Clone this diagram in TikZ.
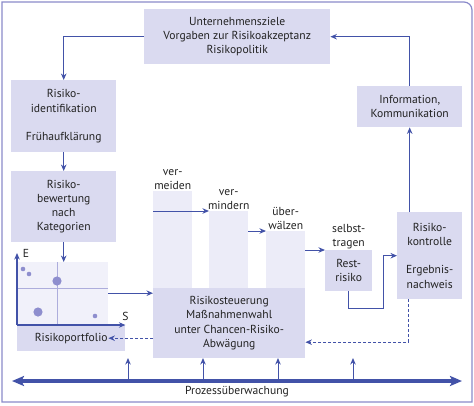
\documentclass[tikz,border=0pt]{standalone}
\usepackage{fontspec}
\setsansfont{PT Sans}
\usepackage{xcolor}
\usetikzlibrary{arrows.meta,positioning,calc}
\definecolor{cLine}{HTML}{4252A8}
\definecolor{cFrame}{HTML}{8A8ACA}
\definecolor{cBox}{HTML}{DADAF0}
\definecolor{cBar}{HTML}{ECECF8}
\definecolor{cGrid}{HTML}{F1F1FA}
\definecolor{cGl}{HTML}{ADADDC}
\definecolor{cDot}{HTML}{8E8ECE}
\definecolor{cInk}{HTML}{222222}

\begin{document}
\begin{tikzpicture}[x=1pt,y=-1pt,
  font=\sffamily\fontsize{11.6}{14.2}\selectfont,
  >={Stealth[length=6.5pt,width=5.5pt]},
  box/.style={rectangle, fill=cBox, draw=none, align=center, inner sep=0pt,
     text=cInk, anchor=north west},
  bar/.style={rectangle, fill=cBar, draw=none, inner sep=0pt, anchor=north west},
  blabel/.style={align=center, text=cInk, inner sep=1pt},
  arr/.style={->, line width=1pt, draw=cLine},
  darr/.style={arr, dash pattern=on 3pt off 2pt},
  big/.style={{Stealth[length=12pt,width=10pt,inset=2.5pt]}-{Stealth[length=12pt,width=10pt,inset=2.5pt]},
     line width=3.6pt, draw=cLine},
]
\useasboundingbox (0,0) rectangle (474,405);

% frame
\draw[cFrame, line width=1.2pt] (2,402) -- (2,2) -- (464,2)
  arc[start angle=90, end angle=0, radius=8pt] -- (472,402) -- cycle;

% =================== boxes ===================
\node[box, minimum width=186pt, minimum height=55pt] at (144,9) (uz)
 {Unternehmensziele\\Vorgaben zur Risikoakzeptanz\\Risikopolitik};
\node[box, minimum width=105pt, minimum height=72pt] at (11,80) (id)
 {Risiko-\\identifikation\\[14pt]Frühaufklärung};
\node[box, minimum width=105pt, minimum height=71pt] at (11,171) (bew)
 {Risiko-\\bewertung\\nach\\Kategorien};
\node[box, minimum width=105pt, minimum height=41pt] at (357,86) (info)
 {Information,\\Kommunikation};
\node[box, minimum width=65pt, minimum height=87pt] at (397,212) (ko)
 {Risiko-\\kontrolle\\[14pt]Ergebnis-\\nachweis};
\node[box, minimum width=47pt, minimum height=41pt] at (325,250) (rest)
 {Rest-\\risiko};

% measures (bars)
\node[bar, minimum width=39pt, minimum height=97pt] at (153,191) (vm) {};
\node[bar, minimum width=39pt, minimum height=77pt] at (209,211) (vmd) {};
\node[bar, minimum width=39pt, minimum height=57pt] at (266,231) (uw) {};
\node[blabel, above=0pt of vm] {ver-\\meiden};
\node[blabel, above=0pt of vmd] {ver-\\mindern};
\node[blabel, above=0pt of uw] {über-\\wälzen};
\node[blabel, above=0pt of rest] {selbst-\\tragen};

\node[box, minimum width=152pt, minimum height=70pt] at (153,288) (st)
 {Risikosteuerung\\Maßnahmenwahl\\unter Chancen-Risiko-\\Abwägung};

% portfolio
\node[bar, fill=cGrid, minimum width=91pt, minimum height=62pt] at (17,262) (pf) {};
\node[box, minimum width=108pt, minimum height=26pt] at (17,325) (pfl) {Risikoportfolio};
\draw[cGl, line width=0.8pt] (57,262) -- (57,324) (17,288) -- (108,288);
\fill[cDot] (23,269) circle[radius=2.3pt] (29,274) circle[radius=2.3pt]
  (57,281) circle[radius=4.6pt] (38,312) circle[radius=4.6pt] (95,316) circle[radius=2.3pt];
\draw[arr, line width=1.1pt] (pfl.north west) -- ++(0,-72) node[right=2pt, text=cInk] (e) {E};
\draw[arr, line width=1.1pt] (pfl.north west) -- (pfl.north east) node[above=0pt, text=cInk] (s) {S};

% =================== connectors ===================
\draw[arr] (uz.west) -| (id.north);
\draw[arr] (id.south) -- (bew.north);
\draw[arr] (bew.south) -- (bew.south |- pf.north);
\draw[arr] (pf.east) -- (st.west |- pf.east);
\draw[darr] ([yshift=-15pt]st.west) -- ([yshift=-15pt]st.west -| pf.east);
\draw[arr] (vm.west |- vmd.north) -- (vmd.north west);
\draw[arr] (vmd.east |- uw.north) -- (uw.north west);
\draw[arr] (uw.east |- rest.north) -- (rest.north west);
\draw[arr] (rest.south) -- ++(0,17) -- ++(35,0) |- (ko.west);
\draw[darr] ([xshift=-21.5pt]ko.south) |- ([yshift=-19pt]st.east);
\draw[arr] (info.south |- ko.north) -- (info.south);
\draw[arr] (info.north) |- (uz.east);

% monitoring
\coordinate (pl) at (12,381);
\coordinate (pr) at (462,381);
\draw[big] (pl) -- (pr);
\node[text=cInk] (pu) at (237,392) {Prozessüberwachung};
\foreach \x in {128,203,278,353} {
  \coordinate (up\x) at (\x,381);
  \draw[arr] (up\x) -- ++(0,-23);
}

\end{tikzpicture}
\end{document}
